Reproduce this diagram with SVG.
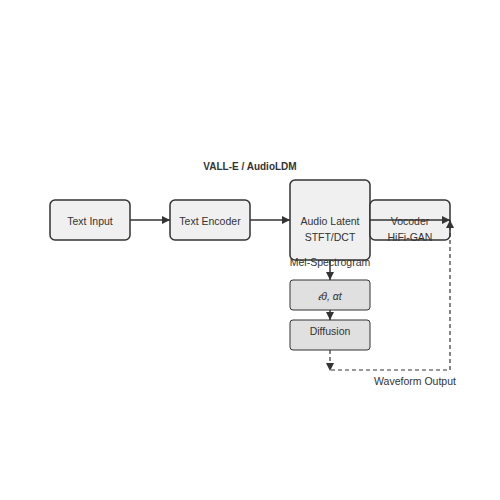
<svg xmlns="http://www.w3.org/2000/svg" width="500" height="500" viewBox="0 0 500 500">
<defs>
<style>
.box{fill:#f0f0f0;stroke:#333;stroke-width:1.5}
.box2{fill:#e0e0e0;stroke:#333;stroke-width:1}
.t{font-family:"Liberation Sans",Arial,sans-serif;font-size:10.5px;fill:#333;text-anchor:middle}
.e{stroke:#333;stroke-width:1.5;fill:none}
.d{stroke:#333;stroke-width:1.2;fill:none;stroke-dasharray:4,3}
</style>
<marker id="ah2" viewBox="0 0 10 10" refX="10" refY="5" markerWidth="8" markerHeight="8" markerUnits="userSpaceOnUse" orient="auto-start-reverse">
<path d="M0,0 L10,5 L0,10 z" fill="#333"/>
</marker>
</defs>
<rect width="500" height="500" fill="#fff"/>
<text class="t" x="250" y="170" style="font-weight:bold;font-size:10px">VALL-E / AudioLDM</text>
<g id="text-input"><rect class="box" x="50" y="200" width="80" height="40" rx="5"/><text class="t" x="90" y="225">Text Input</text></g>
<g id="text-encoder"><rect class="box" x="170" y="200" width="80" height="40" rx="5"/><text class="t" x="210" y="225">Text Encoder</text></g>
<g id="audio-latent"><rect class="box" x="290" y="180" width="80" height="80" rx="5"/><text class="t" x="330" y="225">Audio Latent</text><text class="t" x="330" y="241">STFT/DCT</text></g>
<g id="vocoder"><rect class="box" x="370" y="200" width="80" height="40" rx="5"/><text class="t" x="410" y="225">Vocoder</text><text class="t" x="410" y="241">HiFi-GAN</text></g>
<g id="eps"><rect class="box2" x="290" y="280" width="80" height="30" rx="3"/><text class="t" x="330" y="300" style="font-style:italic">𝜖θ, αt</text></g>
<g id="diffusion"><rect class="box2" x="290" y="320" width="80" height="30" rx="3"/><text class="t" x="330" y="335">Diffusion</text></g>
<g id="connectors">
<line class="e" x1="130" y1="220" x2="170" y2="220" marker-end="url(#ah2)"/>
<line class="e" x1="250" y1="220" x2="290" y2="220" marker-end="url(#ah2)"/>
<line class="e" x1="370" y1="220" x2="450" y2="220" marker-end="url(#ah2)"/>
<line class="e" x1="330" y1="260" x2="330" y2="280" marker-end="url(#ah2)"/>
<line class="e" x1="330" y1="310" x2="330" y2="320" marker-end="url(#ah2)"/>
<path class="d" d="M330,350 L330,370 L450,370 L450,220" marker-end="url(#ah2)"/>
<path d="M326,363 L334,363 L330,371 z" fill="#333"/>
</g>
<text class="t" x="330" y="266">Mel-Spectrogram</text>
<text class="t" x="415" y="385">Waveform Output</text>
</svg>
